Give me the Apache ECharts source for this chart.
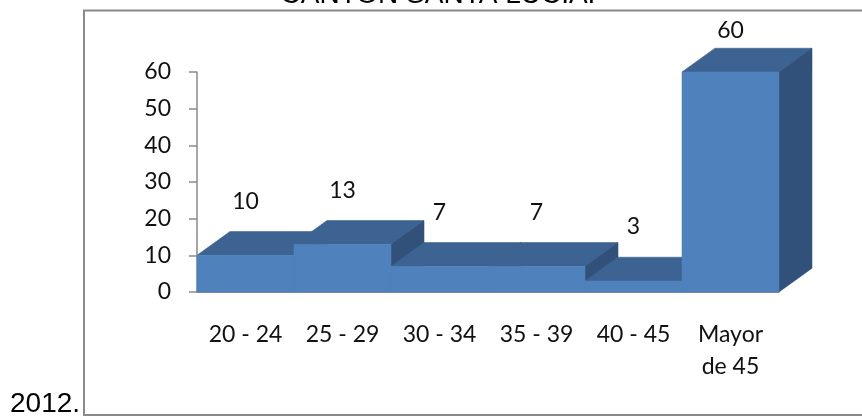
<!DOCTYPE html>
<html>
<head>
<meta charset="utf-8">
<script src="https://cdn.jsdelivr.net/npm/echarts@6/dist/echarts.min.js"></script>
<style>
  html, body { margin: 0; padding: 0; background: #ffffff; }
  #chart { width: 862px; height: 417px; }
</style>
</head>
<body>
<div id="chart"></div>
<script>
// Age groups and number of people in each group
const categories = ['20 - 24', '25 - 29', '30 - 34', '35 - 39', '40 - 45', 'Mayor\nde 45'];
const values = [10, 13, 7, 7, 3, 60];
const titleText = 'CANTON SANTA LUCIA.';
const yearText = '2012.';

const FRONT = '#4F81BD';
const TOP = '#3C6391';
const SIDE = '#31507A';
const TEXT = '#111111';
const LABEL_FONT = '23px Lato';

const chart = echarts.init(document.getElementById('chart'), null, { renderer: 'canvas' });

// Extruded column: front face, top face and right side face
function renderBox(params, api) {
  const i = api.value(0);
  const v = api.value(1);
  const topPt = api.coord([i, v]);
  const basePt = api.coord([i, 0]);
  const w = api.size([1, 0])[0];
  const xl = topPt[0] - w / 2;
  const xr = topPt[0] + w / 2;
  const yt = topPt[1];
  const yb = basePt[1];
  const dx = w * 0.34;
  const dy = -w * 0.245;
  const gridTop = params.coordSys.y;
  return {
    type: 'group',
    children: [
      {
        type: 'polygon',
        shape: { points: [[xl, yt], [xl + dx, yt + dy], [xr + dx, yt + dy], [xr, yt]] },
        style: { fill: TOP, stroke: TOP, lineWidth: 0.6 }
      },
      {
        type: 'polygon',
        shape: { points: [[xr, yt], [xr + dx, yt + dy], [xr + dx, yb + dy], [xr, yb]] },
        style: { fill: SIDE, stroke: SIDE, lineWidth: 0.6 }
      },
      {
        type: 'rect',
        shape: { x: xl, y: yt, width: xr - xl, height: yb - yt },
        style: { fill: FRONT, stroke: FRONT, lineWidth: 0.6 }
      },
      {
        type: 'text',
        style: {
          text: String(v),
          x: topPt[0],
          y: Math.max(yt - 54, gridTop - 41),
          align: 'center',
          verticalAlign: 'middle',
          font: LABEL_FONT,
          fill: TEXT
        }
      }
    ]
  };
}

chart.setOption({
  animation: false,
  backgroundColor: '#ffffff',
  graphic: [
    {
      type: 'rect',
      z: -10,
      shape: { x: 84, y: 10.5, width: 800, height: 404.5 },
      style: { fill: 'none', stroke: '#8a8a8a', lineWidth: 2 }
    },
    {
      type: 'text',
      style: {
        text: titleText,
        x: 438,
        y: -5,
        align: 'center',
        verticalAlign: 'middle',
        font: '28px "Liberation Sans"',
        fill: '#000000'
      }
    },
    {
      type: 'text',
      style: {
        text: yearText,
        x: 10,
        y: 404,
        align: 'left',
        verticalAlign: 'middle',
        font: '28px "Liberation Sans"',
        fill: '#000000'
      }
    }
  ],
  grid: { left: 197, right: 83, top: 72, bottom: 125 },
  xAxis: {
    type: 'category',
    data: categories,
    boundaryGap: true,
    axisLine: { show: true, lineStyle: { color: '#8a8a8a', width: 1 } },
    axisTick: { show: false },
    axisLabel: {
      interval: 0,
      margin: 27,
      fontFamily: 'Lato',
      fontSize: 23,
      color: TEXT,
      lineHeight: 32
    },
    splitLine: { show: false }
  },
  yAxis: {
    type: 'value',
    min: 0,
    max: 60,
    interval: 10,
    axisLine: { show: true, lineStyle: { color: '#8a8a8a', width: 1.5 } },
    axisTick: { show: true, length: 8, lineStyle: { color: '#8a8a8a', width: 1.5 } },
    axisLabel: {
      margin: 26,
      fontFamily: 'Lato',
      fontSize: 23,
      color: TEXT
    },
    splitLine: { show: false }
  },
  series: [
    {
      type: 'custom',
      renderItem: renderBox,
      clip: false,
      data: values.map((v, i) => [i, v])
    }
  ]
});
</script>
</body>
</html>
